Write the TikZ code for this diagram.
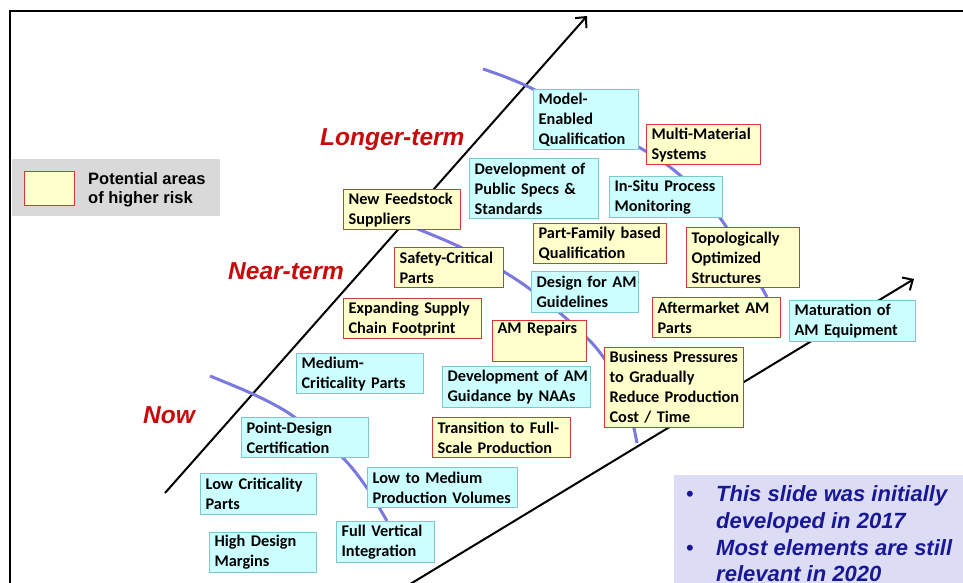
\documentclass[tikz,border=0pt]{standalone}
\usepackage{fontspec}
\setmainfont{Liberation Sans}
\newfontfamily\boxfont{Carlito}
\usetikzlibrary{arrows.meta}
\definecolor{cyanfill}{RGB}{204,255,255}
\definecolor{cyanedge}{RGB}{125,200,205}
\definecolor{yellowfill}{RGB}{255,255,204}
\definecolor{rededge}{RGB}{215,55,55}
\definecolor{legendgrey}{RGB}{217,217,217}
\definecolor{notefill}{RGB}{220,220,244}
\definecolor{notetext}{RGB}{24,24,150}
\definecolor{termred}{RGB}{200,10,10}
\definecolor{curveblue}{RGB}{122,122,222}
\tikzset{
  bx/.style={anchor=north west, inner xsep=5pt, inner ysep=0pt, line width=1.2pt, align=left,
    font={\boxfont\bfseries\fontsize{16.3}{20}\selectfont\hyphenpenalty=10000\exhyphenpenalty=10000}},
  cy/.style={bx, draw=cyanedge, fill=cyanfill},
  ye/.style={bx, draw=rededge, fill=yellowfill},
  arr/.style={line width=2pt, -{Straight Barb[length=8pt,width=15pt,line width=2pt]}},
  curve/.style={line width=3pt, curveblue},
  term/.style={anchor=base west, inner sep=0pt, text=termred,
    font={\bfseries\itshape\fontsize{24.5}{28}\selectfont}}
}
\begin{document}
\begin{tikzpicture}[x=1pt,y=-1pt]
\useasboundingbox (0,0) rectangle (963,583);
% frame
\draw[line width=2pt] (10,11) rectangle (995,610);
% time arrows
\coordinate (aAs) at (165,493);
\coordinate (aAe) at (587,16);
\coordinate (aBs) at (402,589);
\coordinate (aBe) at (914,279);
\draw[arr] (aAs) -- (aAe);
\draw[arr] (aBs) -- (aBe);
% curves
\coordinate (cA1) at (210,376);
\coordinate (cA2) at (255,395);
\coordinate (cA3) at (293,416);
\coordinate (cA4) at (342,457);
\coordinate (cA5) at (367,488);
\coordinate (cA6) at (387,521);
\draw[curve] plot[smooth] coordinates {(cA1) (cA2) (cA3) (cA4) (cA5) (cA6)};
\coordinate (cB1) at (400,222);
\coordinate (cB2) at (460,247);
\coordinate (cB3) at (517,280);
\coordinate (cB4) at (560,313);
\coordinate (cB5) at (598,350);
\coordinate (cB6) at (625,395);
\coordinate (cB7) at (637,443);
\draw[curve] plot[smooth] coordinates {(cB1) (cB2) (cB3) (cB4) (cB5) (cB6) (cB7)};
\coordinate (cC1) at (483,69);
\coordinate (cC2) at (533,89);
\coordinate (cC3) at (642,149);
\coordinate (cC4) at (682,177);
\coordinate (cC5) at (723,222);
\coordinate (cC6) at (767,297);
\draw[curve] plot[smooth] coordinates {(cC1) (cC2) (cC3) (cC4) (cC5) (cC6)};
% legend
\node[fill=legendgrey, anchor=north west, inner sep=0pt, minimum width=208pt, minimum height=57pt] (legend) at (12,159) {};
\node[fill=yellowfill, draw=rededge, line width=1.2pt, anchor=north west, inner sep=0pt, minimum width=50pt, minimum height=34pt] (legsq) at (24,171) {};
\node[anchor=west, inner sep=0pt, align=left, font={\bfseries\fontsize{16.5}{19.5}\selectfont}] (legtxt) at (88,190) {Potential areas\\of higher risk};
% term labels
\node[term] (longer) at (320,146) {Longer-term};
\node[term] (near) at (228,279) {Near-term};
\node[term] (now) at (143,423) {Now};
% boxes
\node[cy, text width=95pt, minimum height=60pt] (me) at (533,89) {\mbox{Model-}\\\mbox{Enabled}\\\mbox{Qualification}};
\node[ye, text width=104pt, minimum height=40pt] (mm) at (646,124) {\mbox{Multi-Material}\\\mbox{Systems}};
\node[cy, text width=119pt, minimum height=60pt] (ps) at (469,158) {\mbox{Development of}\\\mbox{Public Specs \&}\\\mbox{Standards}};
\node[cy, text width=103pt, minimum height=41pt] (is) at (609,176) {\mbox{In-Situ Process}\\\mbox{Monitoring}};
\node[ye, text width=123pt, minimum height=40pt] (pf) at (533,223) {\mbox{Part-Family based}\\\mbox{Qualification}};
\node[ye, text width=103pt, minimum height=60pt] (to) at (686,227) {\mbox{Topologically}\\\mbox{Optimized}\\\mbox{Structures}};
\node[ye, text width=107pt, minimum height=40pt] (nf) at (343,189) {\mbox{New Feedstock}\\\mbox{Suppliers}};
\node[ye, text width=99pt, minimum height=40pt] (sc) at (394,247) {\mbox{Safety-Critical}\\\mbox{Parts}};
\node[cy, text width=97pt, minimum height=41pt] (dg) at (531,271) {\mbox{Design for AM}\\\mbox{Guidelines}};
\node[ye, text width=128pt, minimum height=40pt] (es) at (343,298) {\mbox{Expanding Supply}\\\mbox{Chain Footprint}};
\node[ye, text width=84pt, minimum height=41pt] (ar) at (492,320) {\mbox{AM Repairs}\\\strut};
\node[ye, text width=118pt, minimum height=40pt] (am) at (652,297) {\mbox{Aftermarket AM}\\\mbox{Parts}};
\node[cy, text width=116pt, minimum height=41pt] (ma) at (789,300) {\mbox{Maturation of}\\\mbox{AM Equipment}};
\node[ye, text width=129pt, minimum height=80pt] (bp) at (604,347) {\mbox{Business Pressures}\\\mbox{to Gradually}\\\mbox{Reduce Production}\\\mbox{Cost / Time}};
\node[cy, text width=117pt, minimum height=40pt] (mc) at (296,353) {\mbox{Medium-}\\\mbox{Criticality Parts}};
\node[cy, text width=138pt, minimum height=41pt] (ng) at (442,366) {\mbox{Development of AM}\\\mbox{Guidance by NAAs}};
\node[ye, text width=128pt, minimum height=40pt] (tf) at (432,417) {\mbox{Transition to Full-}\\\mbox{Scale Production}};
\node[cy, text width=117pt, minimum height=40pt] (pd) at (241,417) {\mbox{Point-Design}\\\mbox{Certification}};
\node[cy, text width=140pt, minimum height=40pt] (lm) at (367,467) {\mbox{Low to Medium}\\\mbox{Production Volumes}};
\node[cy, text width=106pt, minimum height=41pt] (lc) at (200,473) {\mbox{Low Criticality}\\\mbox{Parts}};
\node[cy, text width=97pt, minimum height=40pt] (hd) at (209,532) {\mbox{High Design}\\\mbox{Margins}};
\node[cy, text width=88pt, minimum height=41pt] (fv) at (336,521) {\mbox{Full Vertical}\\\mbox{Integration}};
% note
\node[fill=notefill, anchor=north west, inner sep=0pt, minimum width=310pt, minimum height=130pt] (note) at (674,475) {};
\node[anchor=north west, inner sep=0pt, text=notetext, font={\bfseries\itshape\fontsize{22}{26.7}\selectfont}] (notetxt) at (686,483)
  {\begin{tabular}{@{}p{30pt}@{}l@{}}{\upshape\mdseries\textbullet} & This slide was initially\\
   & developed in 2017\\
   {\upshape\mdseries\textbullet} & Most elements are still\\
   & relevant in 2020\end{tabular}};
\end{tikzpicture}
\end{document}
